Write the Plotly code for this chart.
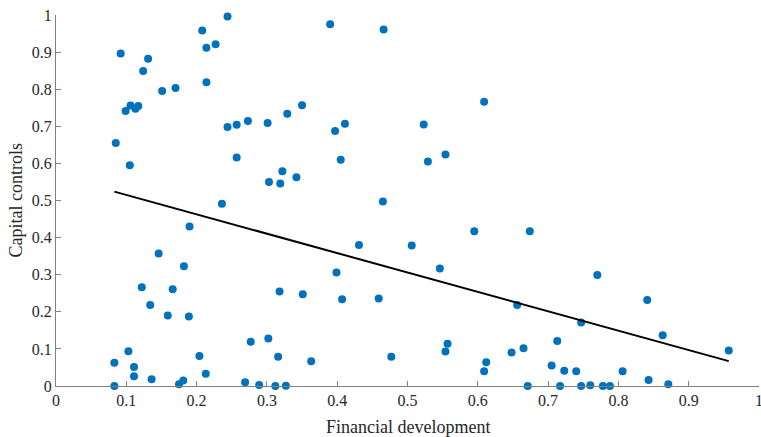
import plotly.graph_objects as go

# Financial development (x) and capital controls (y)
fin_dev = [
    0.092, 0.131, 0.124, 0.151, 0.170, 0.208, 0.214, 0.227, 0.244, 0.214,
    0.099, 0.106, 0.113, 0.117, 0.085, 0.105, 0.244, 0.257, 0.273, 0.301,
    0.329, 0.257, 0.322, 0.303, 0.319, 0.390, 0.466, 0.350, 0.411, 0.397,
    0.523, 0.609, 0.405, 0.529, 0.554, 0.342, 0.465, 0.236, 0.190, 0.146,
    0.182, 0.122, 0.166, 0.134, 0.159, 0.189, 0.318, 0.103, 0.083, 0.111,
    0.111, 0.136, 0.204, 0.213, 0.175, 0.181, 0.083, 0.277, 0.302, 0.316,
    0.269, 0.289, 0.312, 0.327, 0.595, 0.431, 0.506, 0.546, 0.399, 0.351,
    0.407, 0.459, 0.656, 0.557, 0.554, 0.477, 0.363, 0.612, 0.609, 0.648,
    0.674, 0.770, 0.841, 0.747, 0.863, 0.957, 0.713, 0.665, 0.705, 0.723,
    0.740, 0.806, 0.843, 0.871, 0.671, 0.717, 0.747, 0.760, 0.778, 0.788,
]
cap_ctrl = [
    0.896, 0.882, 0.849, 0.795, 0.803, 0.958, 0.912, 0.921, 0.996, 0.819,
    0.741, 0.756, 0.747, 0.755, 0.655, 0.595, 0.698, 0.704, 0.714, 0.709,
    0.734, 0.616, 0.579, 0.550, 0.546, 0.975, 0.961, 0.757, 0.707, 0.687,
    0.705, 0.766, 0.610, 0.605, 0.624, 0.563, 0.497, 0.491, 0.430, 0.357,
    0.323, 0.266, 0.261, 0.218, 0.190, 0.187, 0.255, 0.094, 0.063, 0.051,
    0.026, 0.018, 0.081, 0.033, 0.005, 0.015, 0.000, 0.119, 0.128, 0.079,
    0.010, 0.003, 0.000, 0.001, 0.417, 0.380, 0.379, 0.317, 0.306, 0.247,
    0.234, 0.236, 0.218, 0.114, 0.093, 0.079, 0.067, 0.064, 0.040, 0.090,
    0.417, 0.299, 0.232, 0.171, 0.137, 0.096, 0.121, 0.102, 0.055, 0.041,
    0.040, 0.040, 0.016, 0.005, 0.000, 0.000, 0.000, 0.002, 0.000, 0.000,
]

# Fitted line endpoints
fit_x = [0.083, 0.957]
fit_y = [0.524, 0.067]

x_ticks = [0, 0.1, 0.2, 0.3, 0.4, 0.5, 0.6, 0.7, 0.8, 0.9, 1]
x_tick_text = ["0", "0.1", "0.2", "0.3", "0.4", "0.5", "0.6", "0.7", "0.8", "0.9", "1"]
y_ticks = x_ticks
y_tick_text = x_tick_text

FONT = "Liberation Serif, Times New Roman, serif"
TXT = "#262626"

fig = go.Figure()
fig.add_trace(go.Scatter(
    x=fin_dev, y=cap_ctrl, mode="markers",
    marker=dict(color="#0072BD", size=8, line=dict(width=0)),
    cliponaxis=False, showlegend=False,
))
fig.add_trace(go.Scatter(
    x=fit_x, y=fit_y, mode="lines",
    line=dict(color="black", width=2),
    showlegend=False,
))

axis_common = dict(
    showgrid=False, zeroline=False, showline=True, linecolor="#808080",
    linewidth=1, mirror=False, ticks="inside", ticklen=5, tickcolor="#808080",
    tickfont=dict(family=FONT, size=16, color=TXT),
    range=[0, 1], automargin=False, ticklabeloverflow="allow",
)

fig.update_layout(
    width=761, height=437,
    margin=dict(l=56, r=2, t=15, b=51),
    plot_bgcolor="white", paper_bgcolor="white",
    xaxis=dict(**axis_common, tickvals=x_ticks, ticktext=x_tick_text),
    yaxis=dict(**axis_common, tickvals=y_ticks, ticktext=y_tick_text),
    annotations=[
        dict(text="Financial development", xref="paper", yref="paper",
             x=0.5, y=0, yshift=-41, xanchor="center", yanchor="middle",
             showarrow=False, font=dict(family=FONT, size=18, color=TXT)),
        dict(text="Capital controls", xref="paper", yref="paper",
             x=0, y=0.5, xshift=-41, xanchor="center", yanchor="middle",
             textangle=-90, showarrow=False,
             font=dict(family=FONT, size=18, color=TXT)),
    ],
)

fig.write_html("out.html", config={"displayModeBar": False},
               post_script="document.body.style.margin='0';document.body.style.overflow='hidden';")
